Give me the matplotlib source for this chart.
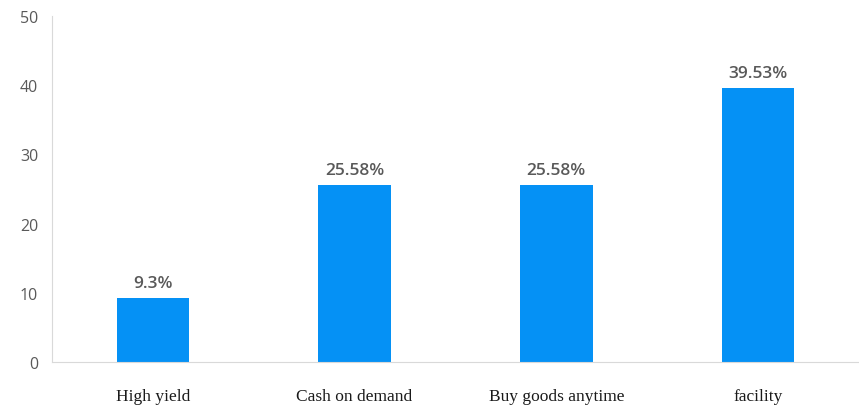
import matplotlib
matplotlib.use("Agg")
import matplotlib.pyplot as plt

categories = ["High yield", "Cash on demand", "Buy goods anytime", "facility"]
values = [9.3, 25.58, 25.58, 39.53]
value_labels = ["9.3%", "25.58%", "25.58%", "39.53%"]
yticks = [0, 10, 20, 30, 40, 50]

fig = plt.figure(figsize=(8.59, 4.10), dpi=100)
ax = fig.add_axes([0.0605, 0.1146, 0.9395, 0.844])

x = range(len(categories))
bars = ax.bar(x, values, width=0.36, color="#0591F5", zorder=2)

for rect, lab in zip(bars, value_labels):
    ax.annotate(lab, (rect.get_x() + rect.get_width() / 2, rect.get_height()),
                xytext=(0, 5), textcoords="offset points",
                ha="center", va="bottom", fontsize=12.5, color="#595959",
                family="Open Sans", weight="semibold")

ax.set_xlim(-0.5, 3.5)
ax.set_ylim(0, 50)
ax.set_yticks(yticks)
ax.set_yticklabels([str(t) for t in yticks], family="Open Sans", fontsize=11.5,
                   color="#595959")
ax.set_xticks(list(x))
ax.set_xticklabels(categories, family="Liberation Serif", fontsize=12.5,
                   color="#1a1a1a")
ax.tick_params(axis="y", length=0, pad=10)
ax.tick_params(axis="x", length=0, pad=19)

for side in ["top", "right"]:
    ax.spines[side].set_visible(False)
ax.spines["left"].set_color("#d9d9d9")
ax.spines["bottom"].set_color("#d9d9d9")

fig.savefig("out.png", dpi=100)
